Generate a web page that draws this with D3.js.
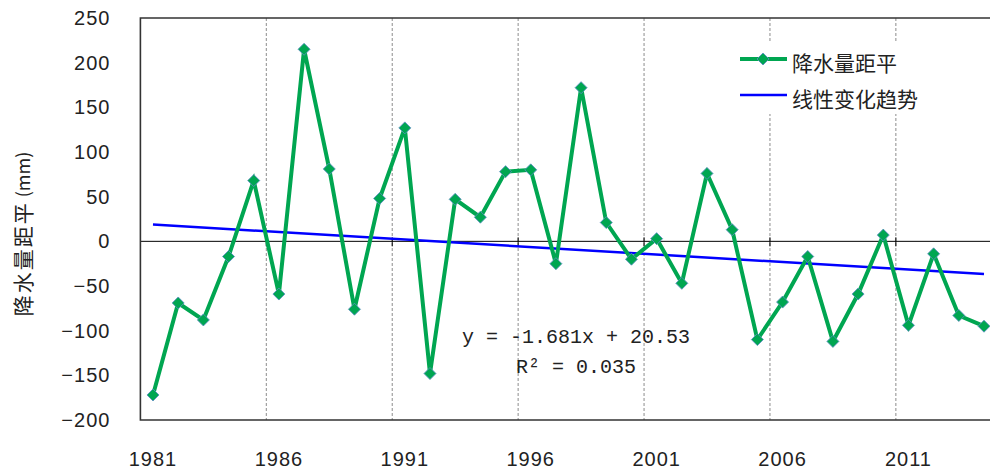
<!DOCTYPE html>
<html>
<head>
<meta charset="utf-8">
<script src="https://cdn.jsdelivr.net/npm/d3@7"></script>
<style>
html,body{margin:0;padding:0;background:#fff;}
svg{display:block;}
</style>
</head>
<body>
<svg id="chart" width="990" height="469"></svg>
<script>
const years = d3.range(1981, 2015);
const anomaly = [-172, -69, -88, -17, 68, -59, 215, 81, -76, 48,
                 127, -148, 47, 27, 78, 80, -25, 172, 21, -20,
                 3, -47, 76, 13, -110, -68, -17, -112, -59, 7,
                 -94, -14, -83, -95];
const trendSlope = -1.681;
const trendIntercept = 20.53;
const yTicks = [250, 200, 150, 100, 50, 0, -50, -100, -150, -200];
const xTickYears = [1981, 1986, 1991, 1996, 2001, 2006, 2011];
const gridYears = [1986, 1991, 1996, 2001, 2006, 2011];
const seriesNames = ["降水量距平", "线性变化趋势"];
const yTitle = "降水量距平";
const yUnit = "(mm)";
const eqLines = ["y = -1.681x + 20.53", "R\u00B2 = 0.035"];

const svg = d3.select("#chart");
const L = 140.4, R = 996.6, T = 18, B = 420;
const x = d3.scaleBand().domain(years).range([L, R]).padding(0);
const cx = d => x(d) + x.bandwidth() / 2;
const y = d3.scaleLinear().domain([-200, 250]).range([B, T]);

const green = "#00A651", blue = "#0000FF";
const numFont = "'Liberation Sans', Arial, sans-serif";
const cjkFont = "'Noto Sans CJK SC', sans-serif";

// gridlines
svg.append("g").selectAll("line").data(gridYears).join("line")
  .attr("x1", d => x(d)).attr("x2", d => x(d))
  .attr("y1", T).attr("y2", B)
  .attr("stroke", "#8c8c8c").attr("stroke-width", 1)
  .attr("stroke-dasharray", "3,2");

// zero line
svg.append("line").attr("x1", L).attr("x2", R).attr("y1", y(0)).attr("y2", y(0))
  .attr("stroke", "#000").attr("stroke-width", 1);
svg.append("g").selectAll("line").data(gridYears).join("line")
  .attr("x1", d => x(d)).attr("x2", d => x(d))
  .attr("y1", y(0) - 4).attr("y2", y(0) + 5)
  .attr("stroke", "#000").attr("stroke-width", 1);

// frame
svg.append("path")
  .attr("d", `M${R},${T}H${L}V${B}H${R}`)
  .attr("fill", "none").attr("stroke", "#333").attr("stroke-width", 1.6);

// y axis labels
const yAxis = d3.axisLeft(y).tickValues(yTicks).tickSize(0).tickPadding(30)
  .tickFormat(d => d < 0 ? "\u2212" + Math.abs(d) : d);
const gy = svg.append("g").attr("transform", `translate(${L},0)`).call(yAxis);
gy.select(".domain").remove();
gy.selectAll("text").attr("font-family", numFont).attr("font-size", 20)
  .attr("fill", "#222").attr("letter-spacing", 1);

// x axis labels
const xAxis = d3.axisBottom(x).tickValues(xTickYears).tickSize(0).tickPadding(0);
const gx = svg.append("g").attr("transform", `translate(0,${B})`).call(xAxis);
gx.select(".domain").remove();
gx.selectAll("text").attr("font-family", numFont).attr("font-size", 20)
  .attr("fill", "#222").attr("letter-spacing", 1)
  .attr("dy", null).attr("y", 46);

// trend line
const trend = years.map((yr, i) => ({yr, v: trendSlope * (i + 1) + trendIntercept}));
svg.append("path").datum([trend[0], trend[trend.length - 1]])
  .attr("d", d3.line().x(d => cx(d.yr)).y(d => y(d.v)))
  .attr("fill", "none").attr("stroke", blue).attr("stroke-width", 2.5);

// series
const pts = years.map((yr, i) => ({yr, v: anomaly[i]}));
svg.append("path").datum(pts)
  .attr("d", d3.line().x(d => cx(d.yr)).y(d => y(d.v)))
  .attr("fill", "none").attr("stroke", green).attr("stroke-width", 4)
  .attr("stroke-linejoin", "miter");
const diamond = d3.symbol(d3.symbolSquare, 72);
svg.append("g").selectAll("path").data(pts).join("path")
  .attr("d", diamond)
  .attr("transform", d => `translate(${cx(d.yr)},${y(d.v)}) rotate(45)`)
  .attr("fill", green).attr("stroke", "#5a8fc0").attr("stroke-width", 0.8);

// legend
const lg = svg.append("g");
lg.append("rect").attr("x", 733).attr("y", 41).attr("width", 200).attr("height", 73).attr("fill", "#fff");
lg.append("line").attr("x1", 740).attr("x2", 787).attr("y1", 59).attr("y2", 59)
  .attr("stroke", green).attr("stroke-width", 4);
lg.append("path").attr("d", diamond).attr("transform", "translate(763,59) rotate(45)")
  .attr("fill", green).attr("stroke", "#5a8fc0").attr("stroke-width", 0.8);
lg.append("line").attr("x1", 740).attr("x2", 787).attr("y1", 95).attr("y2", 95)
  .attr("stroke", blue).attr("stroke-width", 2.5);
lg.selectAll("text").data(seriesNames).join("text")
  .attr("x", 792).attr("y", (d, i) => 62 + i * 36)
  .attr("dominant-baseline", "central")
  .attr("font-family", cjkFont).attr("font-size", 21).attr("fill", "#222")
  .text(d => d);

// equation
svg.append("g").selectAll("text").data(eqLines).join("text")
  .attr("x", 576).attr("y", (d, i) => 343 + i * 30)
  .attr("text-anchor", "middle")
  .attr("font-family", "'Liberation Mono', 'Courier New', monospace")
  .attr("font-size", 20).attr("fill", "#222")
  .text(d => d);

// y title
const yt = svg.append("text")
  .attr("transform", "translate(22,234) rotate(-90)")
  .attr("text-anchor", "middle").attr("dominant-baseline", "central")
  .attr("fill", "#222");
yt.append("tspan").attr("font-family", cjkFont).attr("font-size", 21)
  .attr("letter-spacing", 2).text(yTitle);
yt.append("tspan").attr("font-family", cjkFont).attr("font-size", 18).attr("dx", 4).text(yUnit);
</script>
</body>
</html>
